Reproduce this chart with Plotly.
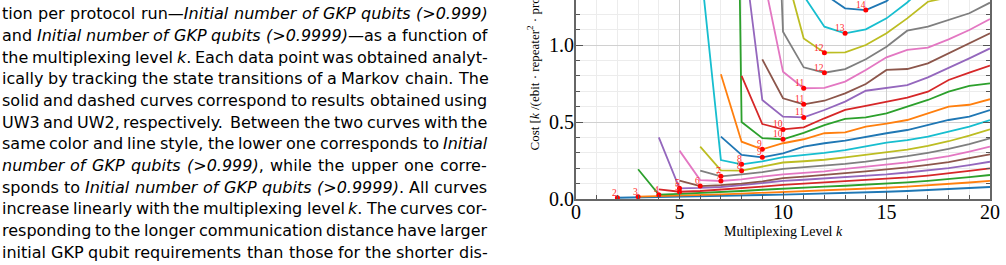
import plotly.graph_objects as go

# ---------------- data ----------------
k_start = [2, 3, 3, 4, 4, 5, 5, 6, 6, 6, 7, 7, 7, 8, 8, 9, 9, 9, 10, 11, 12]

c01 = [0.008, 0.010, 0.012, 0.015, 0.017, 0.020, 0.023, 0.026, 0.029, 0.032, 0.035, 0.038, 0.042, 0.047, 0.052, 0.058, 0.064, 0.071, 0.078]
c02 = [0.015, 0.018, 0.022, 0.026, 0.030, 0.035, 0.040, 0.045, 0.050, 0.055, 0.060, 0.066, 0.073, 0.080, 0.088, 0.097, 0.107, 0.118]
c03 = [0.193, 0.028, 0.033, 0.038, 0.045, 0.052, 0.060, 0.068, 0.074, 0.080, 0.086, 0.092, 0.100, 0.108, 0.118, 0.128, 0.142, 0.156]
c04 = [0.063, 0.047, 0.052, 0.060, 0.070, 0.080, 0.092, 0.100, 0.108, 0.116, 0.122, 0.130, 0.140, 0.152, 0.165, 0.182, 0.199]
c05 = [0.400, 0.069, 0.072, 0.078, 0.090, 0.105, 0.118, 0.125, 0.133, 0.140, 0.150, 0.160, 0.172, 0.185, 0.200, 0.220, 0.242]
c06 = [0.119, 0.084, 0.090, 0.100, 0.115, 0.135, 0.145, 0.155, 0.168, 0.180, 0.192, 0.205, 0.222, 0.240, 0.265, 0.290]
c07 = [0.314, 0.123, 0.117, 0.128, 0.145, 0.160, 0.170, 0.180, 0.195, 0.210, 0.222, 0.238, 0.258, 0.278, 0.308, 0.340]
c08 = [0.184, 0.147, 0.160, 0.175, 0.195, 0.205, 0.215, 0.228, 0.242, 0.258, 0.278, 0.300, 0.325, 0.357, 0.394]
c09 = [0.340, 0.186, 0.184, 0.210, 0.237, 0.245, 0.255, 0.270, 0.288, 0.305, 0.320, 0.345, 0.375, 0.412, 0.453]
c10 = [1.540, 0.253, 0.225, 0.245, 0.272, 0.285, 0.300, 0.318, 0.340, 0.366, 0.383, 0.405, 0.437, 0.470, 0.513]
c11 = [0.405, 0.286, 0.271, 0.297, 0.340, 0.362, 0.379, 0.405, 0.427, 0.448, 0.480, 0.513, 0.535, 0.578]
c12 = [0.810, 0.372, 0.323, 0.362, 0.388, 0.427, 0.433, 0.470, 0.490, 0.513, 0.556, 0.600, 0.612, 0.648]
c13 = [10.00, 0.500, 0.395, 0.388, 0.430, 0.480, 0.520, 0.530, 0.556, 0.600, 0.643, 0.697, 0.734, 0.751]
c14 = [0.800, 0.487, 0.452, 0.465, 0.524, 0.578, 0.604, 0.632, 0.658, 0.697, 0.773, 0.820, 0.866]
c15 = [1.720, 0.643, 0.535, 0.530, 0.578, 0.632, 0.703, 0.723, 0.740, 0.790, 0.849, 0.913, 0.978]
c16 = [0.907, 0.654, 0.615, 0.638, 0.686, 0.747, 0.838, 0.844, 0.881, 0.946, 1.015, 1.076]
c17 = [1.480, 0.827, 0.719, 0.721, 0.762, 0.838, 0.920, 0.968, 0.983, 1.037, 1.097, 1.169]
c18 = [4.500, 1.086, 0.855, 0.820, 0.844, 0.907, 0.989, 1.093, 1.119, 1.162, 1.206, 1.275]
c19 = [1.540, 1.043, 0.950, 0.952, 1.000, 1.076, 1.173, 1.281, 1.310, 1.360, 1.420]
c20 = [1.320, 1.119, 1.076, 1.102, 1.173, 1.276, 1.400, 1.500, 1.600, 1.700]
c21 = [1.330, 1.238, 1.227, 1.285, 1.400, 1.500, 1.600, 1.700, 1.800]

x_ticks = [0, 5, 10, 15, 20]
y_ticks = [0.0, 0.5, 1.0]

caption_lines = [
    "tion per protocol run\u2014*Initial number of GKP qubits (>0.999)*",
    "and *Initial number of GKP qubits (>0.9999)*\u2014as a function of",
    "the multiplexing level *k*. Each data point was obtained analyt-",
    "ically by tracking the state transitions of a Markov chain. The",
    "solid and dashed curves correspond to results obtained using",
    "UW3 and UW2, respectively. Between the two curves with the",
    "same color and line style, the lower one corresponds to *Initial*",
    "*number of GKP qubits (>0.999)*, while the upper one corre-",
    "sponds to *Initial number of GKP qubits (>0.9999)*. All curves",
    "increase linearly with the multiplexing level *k*. The curves cor-",
    "responding to the longer communication distance have larger",
    "initial GKP qubit requirements than those for the shorter dis-",
]

# ---------------- figure ----------------
curves = [c01, c02, c03, c04, c05, c06, c07, c08, c09, c10, c11,
          c12, c13, c14, c15, c16, c17, c18, c19, c20, c21]
tab10 = ['#1f77b4', '#ff7f0e', '#2ca02c', '#d62728', '#9467bd',
         '#8c564b', '#e377c2', '#7f7f7f', '#bcbd22', '#17becf']

W, H = 1006, 265
L, R, T, B = 576, 16, 0, 66
PW, PH = W - L - R, H - T - B

fig = go.Figure()
ann = []
min_x, min_y = [], []
for i, (ks, vals) in enumerate(zip(k_start, curves)):
    ks_list = list(range(ks, ks + len(vals)))
    fig.add_trace(go.Scatter(x=ks_list, y=vals, mode='lines',
                             line=dict(color=tab10[i % 10], width=1.8),
                             hoverinfo='skip'))
    j = min(range(len(vals)), key=lambda n: vals[n])
    min_x.append(ks_list[j])
    min_y.append(vals[j])

fig.add_trace(go.Scatter(x=min_x, y=min_y, mode='markers',
                         marker=dict(color='red', size=5), hoverinfo='skip'))
for mx, my in zip(min_x, min_y):
    ann.append(dict(x=mx, y=my, xref='x', yref='y', text=str(mx),
                    showarrow=False, xanchor='right', yanchor='bottom',
                    xshift=1, yshift=-1, borderpad=0,
                    font=dict(family='Liberation Serif', size=9.5, color='#ff2a2a')))

# axis titles
ann.append(dict(x=0.5, y=(PH - 231.5) / PH, xref='paper', yref='paper',
                text='Multiplexing Level <i>k</i>', showarrow=False,
                xanchor='center', yanchor='middle',
                font=dict(family='Liberation Serif', size=14, color='black')))
ann.append(dict(x=(533 - L) / PW, y=(PH - 153) / PH, xref='paper', yref='paper',
                text='Cost [<i>k</i> /(ebit \u00b7 repeater<sup>2</sup> \u00b7 protocol run)]',
                textangle=-90, showarrow=False, xanchor='center', yanchor='bottom',
                font=dict(family='Liberation Serif', size=13, color='black')))

# caption text, justified word by word (DejaVu Sans advance widths, em units)
AW = {' ': .318, '(': .390, ')': .390, ',': .318, '-': .361, '.': .318, '>': .838,
      '\u2014': 1.0, 'A': .684, 'B': .686, 'C': .698, 'D': .770, 'E': .632, 'F': .575,
      'G': .775, 'H': .752, 'I': .295, 'J': .295, 'K': .656, 'L': .557, 'M': .863,
      'N': .748, 'O': .787, 'P': .603, 'Q': .787, 'R': .695, 'S': .635, 'T': .611,
      'U': .732, 'V': .684, 'W': .989, 'X': .685, 'Y': .611, 'Z': .685,
      'a': .613, 'b': .635, 'c': .550, 'd': .635, 'e': .615, 'f': .352, 'g': .635,
      'h': .634, 'i': .278, 'j': .278, 'k': .579, 'l': .278, 'm': .974, 'n': .634,
      'o': .612, 'p': .635, 'q': .635, 'r': .411, 's': .521, 't': .392, 'u': .634,
      'v': .592, 'w': .818, 'x': .592, 'y': .592, 'z': .525}
for d in '0123456789':
    AW[d] = .636


def wlen(s):
    return sum(AW.get(c, .6) for c in s if c != '*')


XL, XR = 0.5, 486.5
FS = 16.0
for line in caption_lines:
    ws = line.split(' ')
    units = sum(wlen(w) for w in ws)
    FS = min(FS, (XR - XL - 3.0 * (len(ws) - 1)) / units)

line_y0, line_dy = 15.0, 21.67
for li, line in enumerate(caption_lines):
    words = line.split(' ')
    ital = False
    htmls = []
    for w in words:
        parts = w.split('*')
        out = ''
        for j, p in enumerate(parts):
            if j > 0:
                ital = not ital
            if p:
                esc = p.replace('>', '&gt;')
                out += f'<i>{esc}</i>' if ital else esc
        htmls.append(out)
    widths = [wlen(w) * FS for w in words]
    gap = (XR - XL - sum(widths)) / (len(words) - 1)
    cy = line_y0 + li * line_dy - 1.3
    xp = XL
    for h, wd in zip(htmls, widths):
        ann.append(dict(x=(xp - L) / PW, y=(PH - cy) / PH, xref='paper', yref='paper',
                        text=h, showarrow=False, xanchor='left', yanchor='middle',
                        borderpad=0,
                        font=dict(family='DejaVu Sans', size=FS, color='black')))
        xp += wd + gap

axis_common = dict(ticks='inside', tickcolor='#555555', tickwidth=1.2, ticklen=7,
                   showline=True, linecolor='#666666', linewidth=2,
                   showgrid=True, gridcolor='#d0d0d0', gridwidth=1, zeroline=False,
                   tickfont=dict(family='Liberation Serif', size=20, color='black'))

fig.update_xaxes(range=[0, 20], tickmode='array', tickvals=x_ticks,
                 ticktext=[str(v) for v in x_ticks], mirror=False,
                 ticklabelstandoff=-6,
                 minor=dict(dtick=1, tick0=0, ticks='inside', ticklen=4, tickcolor='#555555',
                            showgrid=True, gridcolor='#ececec'),
                 **axis_common)
fig.update_yaxes(range=[0, PH / 154.0], tickmode='array', tickvals=y_ticks,
                 ticktext=[f'{v:.1f}' for v in y_ticks], mirror='ticks',
                 ticklabelstandoff=-4,
                 minor=dict(dtick=0.1, tick0=0, ticks='inside', ticklen=4, tickcolor='#555555',
                            showgrid=True, gridcolor='#ececec'),
                 **axis_common)

fig.update_layout(width=W, height=H, margin=dict(l=L, r=R, t=T, b=B, pad=0),
                  plot_bgcolor='white', paper_bgcolor='white', showlegend=False,
                  annotations=ann)

fig.write_html('out.html')
